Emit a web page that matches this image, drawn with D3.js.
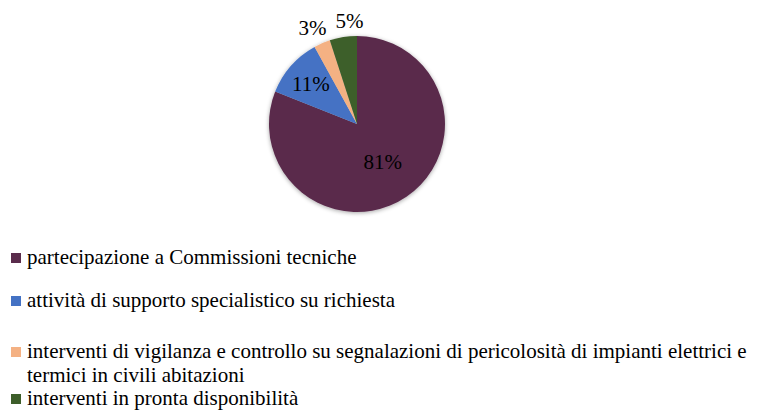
<!DOCTYPE html>
<html>
<head>
    <meta charset="utf-8">
    <script src="https://d3js.org/d3.v7.min.js"></script>
    <style>
        body { margin: 0; background: #fff; }
        text { font-family: "Liberation Serif", "Times New Roman", serif; fill: #000; }
    </style>
</head>
<body>
    <svg width="760" height="412"></svg>
    <script>
        const categories = [
            "partecipazione a Commissioni tecniche",
            "attività di supporto specialistico su richiesta",
            "interventi di vigilanza e controllo su segnalazioni di pericolosità di impianti elettrici e|termici in civili abitazioni",
            "interventi in pronta disponibilità"
        ];
        const values = [81, 11, 3, 5];
        const labels = ["81%", "11%", "3%", "5%"];
        const colors = ["#5a2c4c", "#4472c4", "#f4b183", "#3d5e2a"];

        const width = 760, height = 412;
        const cx = 357, cy = 124, radius = 88;

        const svg = d3.select("svg");

        const defs = svg.append("defs");
        const filter = defs.append("filter").attr("id", "shadow")
            .attr("x", "-20%").attr("y", "-20%").attr("width", "140%").attr("height", "140%");
        filter.append("feDropShadow")
            .attr("dx", 0).attr("dy", 1).attr("stdDeviation", 2)
            .attr("flood-color", "#000").attr("flood-opacity", 0.35);

        const pie = d3.pie().sort(null).value(d => d);
        const arcs = pie(values);
        const arc = d3.arc().innerRadius(0).outerRadius(radius);

        const g = svg.append("g").attr("transform", "translate(" + cx + "," + cy + ")");

        g.append("g").attr("filter", "url(#shadow)")
            .selectAll("path")
            .data(arcs)
            .enter()
            .append("path")
            .attr("d", arc)
            .attr("fill", (d, i) => colors[i]);

        // label placement: big slices inside, small ones pushed outside
        const labelRadius = [0.52, 0.70, 1.19, 1.19];
        const labelShift = [0, 0, -3, 9];
        g.selectAll("text.lbl")
            .data(arcs)
            .enter()
            .append("text")
            .attr("class", "lbl")
            .attr("transform", (d, i) => {
                const a = (d.startAngle + d.endAngle) / 2;
                const r = radius * labelRadius[i];
                return "translate(" + (Math.sin(a) * r + labelShift[i]) + "," + (-Math.cos(a) * r) + ")";
            })
            .attr("dy", "0.35em")
            .style("text-anchor", "middle")
            .style("font-size", "21px")
            .text((d, i) => labels[i]);

        // legend
        const rowY = [264, 307, 358, 405];
        const legend = svg.append("g");
        categories.forEach((c, i) => {
            legend.append("rect")
                .attr("x", 11).attr("y", rowY[i] - 11)
                .attr("width", 10).attr("height", 10)
                .attr("fill", colors[i]);
            const t = legend.append("text")
                .attr("x", 27).attr("y", rowY[i])
                .style("font-size", "21px");
            c.split("|").forEach((line, j) => {
                t.append("tspan").attr("x", 27).attr("dy", j === 0 ? 0 : 24).text(line);
            });
        });
    </script>
</body>
</html>
